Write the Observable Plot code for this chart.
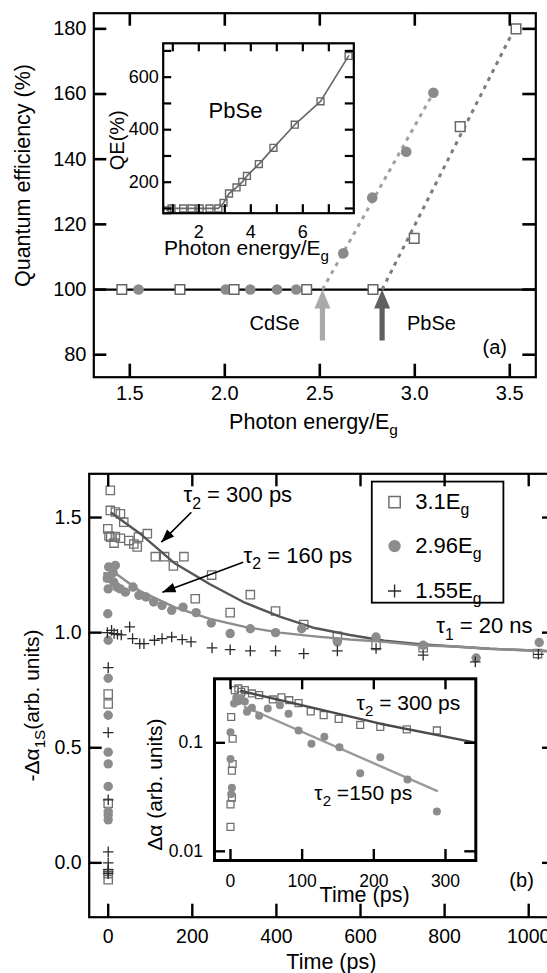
<!DOCTYPE html>
<html><head><meta charset="utf-8">
<script src="https://cdn.jsdelivr.net/npm/d3@7"></script>
<script src="https://cdn.jsdelivr.net/npm/@observablehq/plot@0.6"></script>
<style>
html,body{margin:0;padding:0;background:#fff;overflow:hidden;}
#root{position:relative;width:547px;height:973px;overflow:hidden;background:#fff;}
#root svg{position:absolute;}
</style></head><body><div id="root"></div>
<script>
const FONT = "'Liberation Sans', Arial, Helvetica, sans-serif";

// ---------------- Panel (a) ----------------
const aXTicks = [1.5, 2.0, 2.5, 3.0, 3.5];
const aYTicks = [80, 100, 120, 140, 160, 180];
const cdseE  = [1.546, 2.005, 2.134, 2.275, 2.376, 2.624, 2.776, 2.955, 3.098];
const cdseQE = [100, 100, 100, 100, 100, 111.1, 128.2, 142.3, 160.4];
const pbseE  = [1.458, 1.764, 2.049, 2.431, 2.780, 2.997, 3.239, 3.533];
const pbseQE = [100, 100, 100, 100, 100, 115.7, 150.0, 180.0];
const cdseGuideE = [2.514, 3.098];
const cdseGuideQE = [100, 160.4];
const pbseGuideE = [2.828, 3.533];
const pbseGuideQE = [100, 181];
const thresholdName = ["CdSe", "PbSe"];
const thresholdE = [2.514, 2.828];
const thresholdQE = [100, 100];

// inset of (a)
const insXTicks = [1, 2, 3, 4, 5, 6, 7];
const insXLabels = [2, 4, 6];
const insYTicks = [100, 200, 300, 400, 500, 600, 700];
const insYLabels = [200, 400, 600];
const insE  = [0.78, 0.95, 1.40, 1.72, 2.03, 2.41, 2.75, 2.95, 3.16, 3.45, 3.67, 3.85, 4.31, 4.87, 5.69, 6.68, 7.76];
const insQE = [93, 100, 100, 100, 100, 100, 100, 121, 157, 180, 201, 224, 269, 331, 419, 508, 681];

// ---------------- Panel (b) ----------------
const bXTicks = [0, 200, 400, 600, 800, 1000];
const bYTicks = [0.0, 0.5, 1.0, 1.5];
const seriesNames = ["3.1E_{g}", "2.96E_{g}", "1.55E_{g}"];
const sqT = [0, 0, 0, 0, 0, 0, -1, 2, 5, 5, 6, 14, 17, 17, 29, 29, 37, 49, 61, 69, 72, 93, 112, 134, 155, 180, 207, 246, 290, 338, 398, 465, 545, 637, 749, 1021];
const sqA = [-0.073, -0.047, 0.259, 0.690, 0.733, 1.241, 1.451, 1.420, 1.618, 1.531, 1.415, 1.389, 1.524, 1.417, 1.516, 1.410, 1.480, 1.400, 1.385, 1.372, 1.415, 1.430, 1.330, 1.330, 1.290, 1.330, 1.147, 1.250, 1.087, 1.165, 1.094, 1.035, 0.984, 0.945, 0.935, 0.909];
const ciT = [0, 0, 0, 0, 0, 0, 0, 0, 0, -1, -2, 0, 1, 12, 13, 17, 21, 29, 41, 59, 73, 90, 108, 128, 151, 178, 209, 245, 290, 338, 398, 460, 545, 637, 749, 875, 1025];
const ciA = [0.187, 0.208, 0.223, 0.332, 0.430, 0.481, 0.641, 0.802, 0.967, 1.082, 1.236, 1.190, 1.285, 1.260, 1.220, 1.292, 1.198, 1.190, 1.176, 1.198, 1.162, 1.155, 1.133, 1.118, 1.097, 1.111, 1.087, 1.042, 0.996, 1.017, 1.000, 1.017, 0.960, 0.981, 0.945, 0.890, 0.957];
const crT = [0, 0, 0, 0, 0, 0, 0, 0, -2, 8, 14, 22, 31, 51, 58, 75, 85, 110, 128, 151, 176, 197, 247, 290, 338, 398, 465, 545, 637, 749, 873, 1023];
const crA = [-0.047, -0.039, -0.029, 0.000, 0.048, 0.274, 0.566, 0.848, 1.000, 1.010, 0.996, 0.993, 0.990, 1.025, 0.974, 0.952, 0.952, 0.967, 0.974, 0.981, 0.970, 0.960, 0.934, 0.926, 0.921, 0.921, 0.909, 0.921, 0.931, 0.902, 0.873, 0.906];
const fit31T = [8, 76, 159, 242, 325, 408, 491, 575, 657, 741, 824, 907, 1039, 1064];
const fit31A = [1.52, 1.43, 1.30, 1.21, 1.13, 1.07, 1.02, 0.99, 0.965, 0.95, 0.94, 0.93, 0.92, 0.918];
const fit296T = [8, 76, 159, 242, 325, 408, 491, 575, 657, 741, 824, 907, 1039, 1064];
const fit296A = [1.27, 1.18, 1.11, 1.06, 1.025, 1.0, 0.984, 0.97, 0.96, 0.945, 0.94, 0.93, 0.92, 0.918];

// inset of (b)
const ibXTicks = [0, 100, 200, 300];
const ibYTicks = [0.01, 0.1];
const isqT = [0, 0, 2, 2, 3, 3, 1, 6, 11, 15, 20, 30, 40, 59, 71, 82, 95, 112, 130, 151, 181, 209, 246, 288];
const isqA = [0.0168, 0.0271, 0.0313, 0.0553, 0.0638, 0.109, 0.173, 0.306, 0.317, 0.295, 0.306, 0.285, 0.275, 0.251, 0.262, 0.247, 0.232, 0.195, 0.180, 0.166, 0.146, 0.140, 0.133, 0.130];
const iciT = [0, 0, 2, 1, 5, 8, 11, 15, 20, 23, 30, 40, 52, 69, 81, 95, 113, 131, 152, 181, 209, 247, 288];
const iciA = [0.125, 0.071, 0.0386, 0.0337, 0.230, 0.260, 0.241, 0.257, 0.240, 0.193, 0.210, 0.178, 0.207, 0.222, 0.185, 0.130, 0.098, 0.114, 0.091, 0.0525, 0.0736, 0.0459, 0.0233];
const ifit300T = [15, 209, 340];
const ifit300A = [0.300, 0.150, 0.101];
const ifit150T = [20, 288];
const ifit150A = [0.215, 0.036];

// ---------------- helpers ----------------
const pts = (xs, ys) => xs.map((x, i) => ({x, y: ys[i]}));
function frameTicks(L, xt, yt, len, sw) {
  const iw = L.W - L.ml - L.mr, ih = L.H - L.mt - L.mb;
  return [
    Plot.tickX(xt, {x: d => d, insetTop: ih - len, strokeWidth: sw}),
    Plot.tickX(xt, {x: d => d, insetBottom: ih - len, strokeWidth: sw}),
    Plot.tickY(yt, {y: d => d, insetRight: iw - len, strokeWidth: sw}),
    Plot.tickY(yt, {y: d => d, insetLeft: iw - len, strokeWidth: sw})
  ];
}
const bigArrow = {draw(c, l) {
  const sw = 2.6, hw = 8, hh = 19;
  c.moveTo(-sw, 0); c.lineTo(-sw, -(l - hh)); c.lineTo(-hw, -(l - hh)); c.lineTo(0, -l);
  c.lineTo(hw, -(l - hh)); c.lineTo(sw, -(l - hh)); c.lineTo(sw, 0); c.closePath();
}};
const headShape = {draw(c, l) { c.moveTo(0, -l); c.lineTo(-5, 0); c.lineTo(5, 0); c.closePath(); }};
function layout(L) {
  return {width: L.W, height: L.H, marginLeft: L.ml, marginRight: L.mr, marginTop: L.mt, marginBottom: L.mb,
    style: {fontFamily: FONT, background: "transparent", maxWidth: "none", left: L.left + "px", top: L.top + "px", overflow: "visible"}};
}
function richText(svg) {
  const ns = "http://www.w3.org/2000/svg";
  svg.querySelectorAll("text").forEach(t => {
    const s = t.textContent;
    if (!s.includes("_{")) return;
    const fs = parseFloat(getComputedStyle(t).fontSize) || 16;
    const k = 0.28 * fs;
    while (t.firstChild) t.removeChild(t.firstChild);
    const re = /_\{([^}]*)\}/g; let last = 0, m, shifted = false;
    const add = (str, sub) => {
      if (!str) return;
      const ts = document.createElementNS(ns, "tspan");
      ts.textContent = str;
      if (sub) { ts.setAttribute("dy", k); ts.setAttribute("font-size", (0.72 * fs) + "px"); shifted = true; }
      else if (shifted) { ts.setAttribute("dy", -k); shifted = false; }
      t.appendChild(ts);
    };
    while ((m = re.exec(s))) { add(s.slice(last, m.index), false); add(m[1], true); last = re.lastIndex; }
    add(s.slice(last), false);
  });
}
const dotted = {strokeWidth: 3, strokeDasharray: "4,5", strokeLinecap: "butt"};

// ---------------- Panel (a) plot ----------------
const LA = {W: 547, H: 440, ml: 93.3, mr: 11.7, mt: 12.7, mb: 63.3, left: 0, top: 0};
const thr = thresholdE.map((e, i) => ({e, q: thresholdQE[i], name: thresholdName[i]}));
const panelA = Plot.plot({
  ...layout(LA),
  x: {domain: [1.3105, 3.637]},
  y: {domain: [73.1, 184.8]},
  marks: [
    Plot.ruleY([100], {stroke: "black", strokeWidth: 2.2}),
    Plot.line(pts(cdseGuideE, cdseGuideQE), {x: "x", y: "y", stroke: "#a0a0a0", ...dotted}),
    Plot.line(pts(pbseGuideE, pbseGuideQE), {x: "x", y: "y", stroke: "#7c7c7c", ...dotted}),
    Plot.vector(thr.filter(d => d.name === "CdSe"), {x: "e", y: "q", anchor: "end", length: 51, shape: bigArrow, fill: "#a9a9a9", stroke: "none"}),
    Plot.vector(thr.filter(d => d.name === "PbSe"), {x: "e", y: "q", anchor: "end", length: 51, shape: bigArrow, fill: "#606060", stroke: "none"}),
    Plot.dot(pts(cdseE, cdseQE), {x: "x", y: "y", r: 5.3, fill: "#8a8a8a"}),
    Plot.dot(pts(pbseE, pbseQE), {x: "x", y: "y", symbol: "square", r: 5.4, stroke: "#666", strokeWidth: 1.5, fill: "white"}),
    ...frameTicks(LA, aXTicks, aYTicks, 13, 2.6),
    Plot.axisX({ticks: aXTicks, tickSize: 0, tickPadding: 9, tickFormat: d3.format(".1f"), fontSize: 20, label: null}),
    Plot.axisY({ticks: aYTicks, tickSize: 0, tickPadding: 7.3, tickFormat: d => String(d), fontSize: 20, label: null}),
    Plot.text(["CdSe"], {x: 2.262, y: 89.5, text: d => d, fontSize: 20}),
    Plot.text(["PbSe"], {x: 3.088, y: 89.5, text: d => d, fontSize: 20}),
    Plot.text(["(a)"], {x: 3.421, y: 82.1, text: d => d, fontSize: 20}),
    Plot.text(["Quantum efficiency (%)"], {frameAnchor: "left", rotate: -90, dx: -70.6, dy: -19.7, text: d => d, fontSize: 21.5, textAnchor: "middle", lineAnchor: "middle"}),
    Plot.text(["Photon energy/E_{g}"], {frameAnchor: "bottom", dx: -1.3, dy: 45, text: d => d, fontSize: 21.5, textAnchor: "middle", lineAnchor: "middle"}),
    Plot.frame({stroke: "black", strokeWidth: 2.2})
  ]
});

// ---------------- Inset of (a) ----------------
const LIA = {W: 280, H: 240, ml: 72.7, mr: 16.7, mt: 12.8, mb: 57.3, left: 90, top: 30};
const insetA = Plot.plot({
  ...layout(LIA),
  x: {domain: [0.63, 7.96]},
  y: {domain: [82, 729]},
  marks: [
    Plot.frame({fill: "white", stroke: "none"}),
    Plot.line(pts(insE, insQE), {x: "x", y: "y", stroke: "#6a6a6a", strokeWidth: 1.7}),
    Plot.dot(pts(insE, insQE), {x: "x", y: "y", symbol: "square", r: 3.9, stroke: "#666", strokeWidth: 1.4, fill: "none"}),
    ...frameTicks(LIA, insXTicks, insYTicks, 8.5, 2.2),
    Plot.axisX({ticks: insXLabels, tickSize: 0, tickPadding: 11.8, tickFormat: d => String(d), fontSize: 18, label: null}),
    Plot.axisY({ticks: insYLabels, tickSize: 0, tickPadding: 4.4, tickFormat: d => String(d), fontSize: 18, label: null}),
    Plot.text(["PbSe"], {x: 3.41, y: 470, text: d => d, fontSize: 22}),
    Plot.text(["Photon energy/E_{g}"], {frameAnchor: "bottom", dx: -12, dy: 35.3, text: d => d, fontSize: 21, textAnchor: "middle", lineAnchor: "middle"}),
    Plot.text(["QE(%)"], {frameAnchor: "left", rotate: -90, dx: -45.7, dy: 12, text: d => d, fontSize: 20, textAnchor: "middle", lineAnchor: "middle"}),
    Plot.frame({stroke: "black", strokeWidth: 2.2})
  ]
});

// ---------------- Panel (b) ----------------
const LB = {W: 560, H: 533, ml: 88.7, mr: 5, mt: 33.3, mb: 56.3, left: 0, top: 440};
const panelB = Plot.plot({
  ...layout(LB),
  x: {domain: [-45.2, 1063.7]},
  y: {domain: [-0.236, 1.690]},
  marks: [
    Plot.dot(pts(sqT, sqA), {x: "x", y: "y", symbol: "square", r: 4.7, stroke: "#707070", strokeWidth: 1.3, fill: "none"}),
    Plot.line(pts(fit31T, fit31A), {x: "x", y: "y", stroke: "#555", strokeWidth: 2.4}),
    Plot.line(pts(fit296T, fit296A), {x: "x", y: "y", stroke: "#8c8c8c", strokeWidth: 2.4}),
    Plot.dot(pts(ciT, ciA), {x: "x", y: "y", r: 4.7, fill: "#8c8c8c"}),
    Plot.dot(pts(crT, crA), {x: "x", y: "y", symbol: "plus", r: 3.5, stroke: "#2b2b2b", strokeWidth: 1.3}),
    // annotations
    Plot.link([0], {x1: 197.7, y1: 1.523, x2: 126.5, y2: 1.393, stroke: "black", strokeWidth: 1.6}),
    Plot.vector([0], {x: 126.5, y: 1.393, anchor: "end", rotate: -135, length: 13, shape: headShape, fill: "black", stroke: "none"}),
    Plot.link([0], {x1: 321, y1: 1.306, x2: 128.9, y2: 1.176, stroke: "black", strokeWidth: 1.6}),
    Plot.vector([0], {x: 128.9, y: 1.176, anchor: "end", rotate: -110.3, length: 13, shape: headShape, fill: "black", stroke: "none"}),
    Plot.text(["τ_{2} = 300 ps"], {x: 179, y: 1.596, text: d => d, textAnchor: "start", fontSize: 22}),
    Plot.text(["τ_{2} = 160 ps"], {x: 322, y: 1.335, text: d => d, textAnchor: "start", fontSize: 22}),
    Plot.text(["τ_{1} = 20 ns"], {x: 780, y: 1.027, text: d => d, textAnchor: "start", fontSize: 22}),
    Plot.text(["(b)"], {x: 983, y: -0.079, text: d => d, fontSize: 20}),
    // legend
    Plot.rect([0], {x1: 628, x2: 941, y1: 1.128, y2: 1.654, fill: "white", stroke: "black", strokeWidth: 1.8}),
    Plot.dot([0], {x: 681, y: 1.567, symbol: "square", r: 6.4, stroke: "#707070", strokeWidth: 1.5, fill: "none"}),
    Plot.dot([0], {x: 681, y: 1.376, r: 6.2, fill: "#8c8c8c"}),
    Plot.dot([0], {x: 681, y: 1.181, symbol: "plus", r: 4.3, stroke: "#2b2b2b", strokeWidth: 1.4}),
    Plot.text([seriesNames[0]], {x: 730, y: 1.567, text: d => d, textAnchor: "start", fontSize: 22}),
    Plot.text([seriesNames[1]], {x: 730, y: 1.376, text: d => d, textAnchor: "start", fontSize: 22}),
    Plot.text([seriesNames[2]], {x: 730, y: 1.181, text: d => d, textAnchor: "start", fontSize: 22}),
    ...frameTicks(LB, bXTicks, bYTicks, 13, 2.4),
    Plot.axisX({ticks: bXTicks, tickSize: 0, tickPadding: 12.3, tickFormat: d => String(d), fontSize: 19.5, label: null}),
    Plot.axisY({ticks: bYTicks, tickSize: 0, tickPadding: 7.7, tickFormat: d3.format(".1f"), fontSize: 19.5, label: null}),
    Plot.text(["-Δα_{1S}(arb. units)"], {frameAnchor: "left", rotate: -90, dx: -57, dy: 10, text: d => d, fontSize: 21, textAnchor: "middle", lineAnchor: "middle"}),
    Plot.text(["Time (ps)"], {frameAnchor: "bottom", dx: 9, dy: 45, text: d => d, fontSize: 21.5, textAnchor: "middle", lineAnchor: "middle"}),
    Plot.frame({stroke: "black", strokeWidth: 2.2})
  ]
});

// ---------------- Inset of (b) ----------------
const LIB = {W: 360, H: 250, ml: 84, mr: 14.7, mt: 18.3, mb: 50, left: 130, top: 660};
const insetB = Plot.plot({
  ...layout(LIB),
  x: {domain: [-22.3, 342.3]},
  y: {type: "log", domain: [0.00823, 0.389]},
  marks: [
    Plot.frame({fill: "white", stroke: "none"}),
    Plot.dot(pts(isqT, isqA), {x: "x", y: "y", symbol: "square", r: 3.9, stroke: "#707070", strokeWidth: 1.3, fill: "none"}),
    Plot.line(pts(ifit300T, ifit300A), {x: "x", y: "y", stroke: "#4a4a4a", strokeWidth: 2.4}),
    Plot.line(pts(ifit150T, ifit150A), {x: "x", y: "y", stroke: "#9a9a9a", strokeWidth: 2.4}),
    Plot.dot(pts(iciT, iciA), {x: "x", y: "y", r: 4, fill: "#8c8c8c"}),
    ...frameTicks(LIB, ibXTicks, ibYTicks, 11, 2.4),
    Plot.axisX({ticks: ibXTicks, tickSize: 0, tickPadding: 13.7, tickFormat: d => String(d), fontSize: 17.5, label: null}),
    Plot.axisY({ticks: ibYTicks, tickSize: 0, tickPadding: 11.6, tickFormat: d => String(d), fontSize: 17.5, label: null}),
    Plot.text(["τ_{2} = 300 ps"], {x: 176, y: 0.230, text: d => d, textAnchor: "start", fontSize: 21}),
    Plot.text(["τ_{2} =150 ps"], {x: 117, y: 0.0341, text: d => d, textAnchor: "start", fontSize: 21}),
    Plot.text(["Time (ps)"], {frameAnchor: "bottom", dx: 19.4, dy: 35, text: d => d, fontSize: 21.5, textAnchor: "middle", lineAnchor: "middle"}),
    Plot.text(["Δα (arb. units)"], {frameAnchor: "left", rotate: -90, dx: -59, dy: 15, text: d => d, fontSize: 21, textAnchor: "middle", lineAnchor: "middle"}),
    Plot.frame({stroke: "black", strokeWidth: 3})
  ]
});

const root = document.getElementById("root");
[panelA, insetA, panelB, insetB].forEach(svg => { root.appendChild(svg); richText(svg); });
</script></body></html>
